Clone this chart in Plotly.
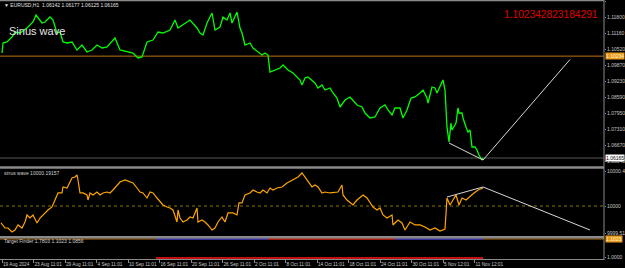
import plotly.graph_objects as go

W, H = 625, 268
PLOT_W = 604  # plot area width in px (right price scale sits outside)

# ---------------- data ----------------
header_text = "▼ EURUSD,H1  1.06142 1.06177 1.06125 1.06165"
title_text = "Sinus wave"
level_text = "1.102342823184291"
sinus_label = "sinus wave 10000.19157"
target_label = "Target Finder 1.7803 1.1023 1.0856"

# EURUSD H1 close (bar index, price)
price_points = [
    (6, 1.1036), (9, 1.1076), (21, 1.1080), (36, 1.1100), (45, 1.1120), (60, 1.1116),
    (81, 1.1136), (99, 1.1160), (108, 1.1188), (114, 1.1176), (126, 1.1156), (135, 1.1160),
    (150, 1.1180), (159, 1.1168), (171, 1.1116), (180, 1.1120), (189, 1.1080), (201, 1.1076),
    (216, 1.1080), (231, 1.1048), (246, 1.1068), (261, 1.1040), (276, 1.1048), (291, 1.1068),
    (306, 1.1056), (321, 1.1060), (345, 1.1096), (360, 1.1048), (381, 1.1040), (399, 1.1036),
    (414, 1.1016), (426, 1.1020), (441, 1.1080), (459, 1.1088), (474, 1.1120), (489, 1.1116),
    (510, 1.1128), (525, 1.1168), (534, 1.1136), (549, 1.1148), (570, 1.1168), (591, 1.1136),
    (600, 1.1116), (609, 1.1108), (621, 1.1156), (636, 1.1196), (645, 1.1128), (660, 1.1140),
    (669, 1.1180), (681, 1.1168), (690, 1.1196), (696, 1.1156), (711, 1.1200), (720, 1.1136),
    (726, 1.1116), (735, 1.1068), (750, 1.1076), (759, 1.1056), (774, 1.1040), (786, 1.1028),
    (795, 1.1036), (804, 1.1028), (810, 1.0960), (825, 1.0968), (840, 1.0976), (849, 1.0988),
    (864, 1.0968), (879, 1.0956), (891, 1.0940), (900, 1.0928), (906, 1.0908), (915, 1.0936),
    (924, 1.0940), (936, 1.0928), (945, 1.0916), (954, 1.0896), (966, 1.0908), (975, 1.0888),
    (990, 1.0896), (999, 1.0876), (1011, 1.0856), (1020, 1.0820), (1035, 1.0848), (1050, 1.0860),
    (1059, 1.0848), (1071, 1.0828), (1086, 1.0820), (1095, 1.0796), (1110, 1.0776), (1125, 1.0780),
    (1140, 1.0816), (1155, 1.0828), (1164, 1.0808), (1176, 1.0788), (1185, 1.0816), (1200, 1.0816),
    (1209, 1.0776), (1221, 1.0808), (1233, 1.0856), (1245, 1.0860), (1260, 1.0876), (1269, 1.0888),
    (1281, 1.0856), (1284, 1.0836), (1296, 1.0900), (1305, 1.0896), (1311, 1.0876), (1320, 1.0900),
    (1329, 1.0928), (1335, 1.0888), (1338, 1.0800), (1341, 1.0740), (1347, 1.0680), (1353, 1.0756),
    (1356, 1.0728), (1362, 1.0740), (1368, 1.0756), (1374, 1.0816), (1377, 1.0796), (1386, 1.0796),
    (1389, 1.0776), (1398, 1.0740), (1404, 1.0720), (1410, 1.0728), (1416, 1.0660), (1425, 1.0660),
    (1431, 1.0648), (1437, 1.0628), (1446, 1.0608), (1449, 1.0616),
]

# Sinus wave indicator (bar index, value)
sinus_points = [
    (3, 9999.754), (9, 9999.725), (15, 9999.681), (24, 9999.681), (36, 9999.623), (45, 9999.652),
    (54, 9999.725), (66, 9999.681), (75, 9999.768), (81, 9999.870), (90, 9999.826), (99, 9999.870),
    (111, 9999.754), (120, 9999.826), (129, 9999.870), (144, 9999.942), (156, 9999.986), (165, 10000.087),
    (174, 10000.189), (186, 10000.189), (189, 10000.276), (201, 10000.261), (210, 10000.348), (216, 10000.406),
    (225, 10000.421), (231, 10000.450), (234, 10000.377), (240, 10000.189), (249, 10000.189), (261, 10000.160),
    (264, 10000.087), (270, 10000.189), (279, 10000.160), (291, 10000.203), (300, 10000.160), (309, 10000.189),
    (321, 10000.203), (330, 10000.189), (339, 10000.232), (351, 10000.305), (360, 10000.348), (375, 10000.377),
    (390, 10000.348), (399, 10000.334), (411, 10000.261), (420, 10000.203), (429, 10000.189), (441, 10000.116),
    (450, 10000.203), (459, 10000.189), (471, 10000.116), (480, 10000.058), (489, 10000.015), (501, 9999.986),
    (510, 9999.971), (519, 9999.942), (531, 9999.768), (534, 9999.942), (540, 9999.826), (549, 9999.768),
    (561, 9999.797), (570, 9999.841), (579, 9999.826), (591, 9999.971), (594, 9999.768), (606, 9999.797),
    (615, 9999.768), (624, 9999.725), (636, 9999.652), (645, 9999.681), (654, 9999.768), (666, 9999.841),
    (675, 9999.768), (684, 9999.899), (699, 9999.899), (711, 9999.870), (717, 10000.044), (726, 10000.044),
    (735, 10000.160), (750, 10000.189), (759, 10000.232), (771, 10000.203), (780, 10000.189), (789, 10000.232),
    (801, 10000.189), (810, 10000.261), (819, 10000.232), (831, 10000.261), (846, 10000.276), (861, 10000.334),
    (876, 10000.377), (885, 10000.406), (894, 10000.421), (906, 10000.479), (915, 10000.421), (924, 10000.348),
    (936, 10000.276), (945, 10000.305), (954, 10000.276), (966, 10000.189), (975, 10000.203), (990, 10000.189),
    (1005, 10000.203), (1014, 10000.203), (1026, 10000.305), (1029, 10000.160), (1041, 10000.087), (1050, 10000.044),
    (1059, 10000.015), (1071, 10000.087), (1080, 10000.131), (1089, 10000.160), (1101, 10000.116), (1110, 10000.058),
    (1119, 9999.986), (1131, 9999.942), (1140, 9999.971), (1149, 9999.870), (1161, 9999.826), (1176, 9999.870),
    (1179, 9999.725), (1194, 9999.797), (1206, 9999.754), (1215, 9999.652), (1230, 9999.768), (1245, 9999.725),
    (1260, 9999.725), (1275, 9999.696), (1290, 9999.652), (1305, 9999.681), (1320, 9999.638), (1335, 9999.667),
    (1341, 10000.116), (1350, 10000.015), (1359, 10000.087), (1368, 10000.160), (1377, 10000.015), (1386, 10000.116),
    (1398, 10000.087), (1410, 10000.145), (1422, 10000.189), (1434, 10000.232), (1449, 10000.261),
]

level_price = 1.102342823184291
bid_price = 1.06165
level_label = "1.10234"
bid_label = "1.06165"

price_tick_vals = [1.12440, 1.11800, 1.11160, 1.10520, 1.09870, 1.09230, 1.08590,
                   1.07950, 1.07310, 1.06670, 1.06040]
price_tick_text = ["1.12440", "1.11800", "1.11160", "1.10520", "1.09870", "1.09230",
                   "1.08590", "1.07950", "1.07310", "1.06670", "1.06040"]

x_tick_vals = [6, 100.5, 195, 289.5, 384, 478.5, 573, 667.5, 762, 856.5, 951,
               1045.5, 1140, 1234.5, 1329, 1423.5]
x_tick_text = ["19 Aug 2024", "23 Aug 11:01", "29 Aug 11:01", "4 Sep 11:01", "10 Sep 11:01",
               "16 Sep 11:01", "20 Sep 11:01", "26 Sep 11:01", "2 Oct 11:01", "8 Oct 11:01",
               "14 Oct 11:01", "18 Oct 11:01", "24 Oct 11:01", "30 Oct 11:01", "5 Nov 12:01",
               "11 Nov 12:01"]

trend_main = [(1347, 1.0676), (1449, 1.0608), (1710, 1.1010)]
trend_sinus = [(1341, 10000.130), (1449, 10000.276), (1770, 9999.652)]

sinus_level = 10000.0
sinus_tick_vals = [10000.5075, 10000.0, 9999.6085]
sinus_tick_text = ["10000.4944", "10000", "9999.5119"]

target_level = 0.952
target_low = 0.048
target_blue_1 = (468, 804)
target_red = (804, 1185)
target_blue_2 = (1185, 1449)
target_bottom = (468, 1449)
target_tick_vals = [0.095]
target_tick_text = ["1.0000"]
target_level_label = "1.1023"

# ---------------- geometry helpers ----------------
def ypaper(px):
    return 1 - px / H

X_MAX = 3 * PLOT_W
MAIN_RANGE = [1.1244 - 165 * 0.0004, 1.1244]
SIN_RANGE = [10000 - 30 * 0.0145, 10000 + 37 * 0.0145]

GRAY = "#8a8a8a"
TXT = "#c8c8c8"
FONT = "Liberation Sans"

fig = go.Figure()

fig.add_trace(go.Scatter(
    x=[p[0] for p in price_points], y=[p[1] for p in price_points],
    mode="lines", line=dict(color="#00ff00", width=1.3), yaxis="y", hoverinfo="skip"))
fig.add_trace(go.Scatter(
    x=[p[0] for p in trend_main], y=[p[1] for p in trend_main],
    mode="lines", line=dict(color="#d8d8d8", width=1), yaxis="y", hoverinfo="skip"))
fig.add_trace(go.Scatter(
    x=[p[0] for p in sinus_points], y=[p[1] for p in sinus_points],
    mode="lines", line=dict(color="#ffa500", width=1.2), yaxis="y2", hoverinfo="skip"))
fig.add_trace(go.Scatter(
    x=[p[0] for p in trend_sinus], y=[p[1] for p in trend_sinus],
    mode="lines", line=dict(color="#d8d8d8", width=1), yaxis="y2", hoverinfo="skip"))

# target finder pane
fig.add_trace(go.Scatter(x=[0, X_MAX], y=[target_level, target_level], mode="lines",
                         line=dict(color="#b8700e", width=1), yaxis="y3", hoverinfo="skip"))
for seg, col in [(target_blue_1, "#3030d0"), (target_red, "#c01010"), (target_blue_2, "#3030d0")]:
    fig.add_trace(go.Scatter(x=list(seg), y=[target_level, target_level], mode="lines",
                             line=dict(color=col, width=1.5), yaxis="y3", hoverinfo="skip"))
fig.add_trace(go.Scatter(x=list(target_bottom), y=[target_low, target_low], mode="lines",
                         line=dict(color="#c01010", width=2), yaxis="y3", hoverinfo="skip"))

shapes = []
shapes.append(dict(type="line", xref="paper", yref="y", x0=0, x1=1, y0=level_price, y1=level_price,
                   line=dict(color="#c07010", width=1), layer="below"))
shapes.append(dict(type="line", xref="paper", yref="y", x0=0, x1=1, y0=bid_price, y1=bid_price,
                   line=dict(color="#3a3a3a", width=1.5), layer="below"))
shapes.append(dict(type="line", xref="paper", yref="y2", x0=0, x1=1, y0=sinus_level, y1=sinus_level,
                   line=dict(color="#8a7400", width=1, dash="dot"), layer="below"))
for py, w in [(0.5, 1.5), (167.5, 2.5), (237.2, 2.5)]:
    shapes.append(dict(type="line", xref="paper", yref="paper", x0=0, x1=1,
                       y0=ypaper(py), y1=ypaper(py), line=dict(color=GRAY, width=w)))
shapes.append(dict(type="line", xref="paper", yref="paper", x0=1, x1=1,
                   y0=ypaper(260), y1=1, line=dict(color=GRAY, width=1)))

ann = []
ann.append(dict(text=header_text, xref="paper", yref="paper", x=2 / PLOT_W, y=ypaper(5),
                xanchor="left", yanchor="middle", showarrow=False,
                font=dict(family=FONT, size=5, color="#e0e0e0")))
ann.append(dict(text=title_text, xref="paper", yref="paper", x=7 / PLOT_W, y=ypaper(31),
                xanchor="left", yanchor="middle", showarrow=False,
                font=dict(family=FONT, size=11, color="#e6e6e6")))
ann.append(dict(text=level_text, xref="paper", yref="paper", x=502 / PLOT_W, y=ypaper(14.5),
                xanchor="left", yanchor="middle", showarrow=False,
                font=dict(family=FONT, size=10.2, color="#e00000")))
ann.append(dict(text=sinus_label, xref="paper", yref="paper", x=2 / PLOT_W, y=ypaper(172.5),
                xanchor="left", yanchor="middle", showarrow=False,
                font=dict(family=FONT, size=5, color="#d0d0d0")))
ann.append(dict(text=target_label, xref="paper", yref="paper", x=2 / PLOT_W, y=ypaper(241),
                xanchor="left", yanchor="middle", showarrow=False,
                font=dict(family=FONT, size=5, color="#d0d0d0")))
ann.append(dict(text=level_label, xref="paper", yref="y", x=1 + 1 / PLOT_W, y=level_price,
                xanchor="left", yanchor="middle", showarrow=False, bgcolor="#e89a1c",
                borderpad=0, font=dict(family=FONT, size=5, color="#fff2d0")))
ann.append(dict(text=bid_label, xref="paper", yref="y", x=1 + 1 / PLOT_W, y=bid_price,
                xanchor="left", yanchor="middle", showarrow=False, bgcolor="#ffffff",
                borderpad=0, font=dict(family=FONT, size=5, color="#000000")))
ann.append(dict(text=target_level_label, xref="paper", yref="y3", x=1 + 1 / PLOT_W, y=target_level,
                xanchor="left", yanchor="middle", showarrow=False, bgcolor="#e89a1c",
                borderpad=0, font=dict(family=FONT, size=5, color="#fff2d0")))

axis_common = dict(showgrid=False, zeroline=False, side="right", anchor="x",
                   ticks="outside", ticklen=1, tickcolor=GRAY, automargin=False,
                   tickfont=dict(family=FONT, size=5, color=TXT),
                   fixedrange=True)

fig.update_layout(
    width=W, height=H,
    margin=dict(l=0, r=W - PLOT_W, t=0, b=0, pad=0, autoexpand=False),
    paper_bgcolor="#000000", plot_bgcolor="#000000",
    showlegend=False,
    shapes=shapes, annotations=ann,
    xaxis=dict(domain=[0, 1], range=[0, X_MAX], anchor="y3", showgrid=False, zeroline=False,
               showline=True, linecolor=GRAY, linewidth=1, automargin=False, tickangle=0,
               ticks="outside", ticklen=3, tickcolor=GRAY,
               tickvals=x_tick_vals, ticktext=x_tick_text, ticklabelposition="outside right",
               tickfont=dict(family=FONT, size=4.7, color=TXT),
               fixedrange=True),
    yaxis=dict(domain=[ypaper(166), ypaper(1)], range=MAIN_RANGE,
               tickvals=price_tick_vals, ticktext=price_tick_text, **axis_common),
    yaxis2=dict(domain=[ypaper(236), ypaper(169)], range=SIN_RANGE,
                tickvals=sinus_tick_vals, ticktext=sinus_tick_text, **axis_common),
    yaxis3=dict(domain=[ypaper(259), ypaper(238)], range=[0, 1],
                tickvals=target_tick_vals, ticktext=target_tick_text, **axis_common),
)

fig.write_html("out.html", config={"displayModeBar": False})
